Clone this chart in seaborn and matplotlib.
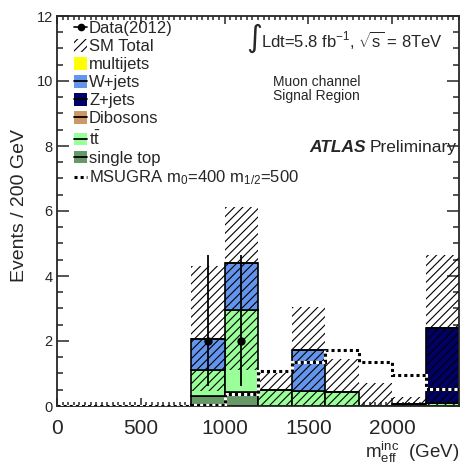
import numpy as np
import pandas as pd
import matplotlib
matplotlib.use("Agg")
import matplotlib.pyplot as plt
import seaborn as sns
from matplotlib.patches import Patch
from matplotlib.lines import Line2D
from matplotlib.ticker import MultipleLocator

# ---------------- data ----------------
bin_edges = [0, 200, 400, 600, 800, 1000, 1200, 1400, 1600, 1800, 2000, 2200, 2400]
bin_centers = [100, 300, 500, 700, 900, 1100, 1300, 1500, 1700, 1900, 2100, 2300]

processes = ["multijets", "W+jets", "Z+jets", "Dibosons", "ttbar", "single top"]
multijets = [0, 0, 0, 0, 0, 0, 0, 0, 0, 0, 0, 0]
wjets = [0, 0, 0, 0, 0.97, 1.45, 0, 1.25, 0, 0, 0, 0]
zjets = [0, 0, 0, 0, 0, 0, 0, 0, 0, 0, 0, 2.32]
dibosons = [0, 0, 0, 0, 0, 0, 0, 0, 0, 0, 0, 0]
ttbar = [0, 0, 0, 0, 0.78, 2.53, 0.48, 0.47, 0.44, 0.0, 0.05, 0.08]
single_top = [0, 0, 0, 0, 0.32, 0.42, 0, 0, 0, 0, 0, 0]

band_low = [0, 0, 0, 0, 0.45, 1.10, 0, 0, 0, 0, 0, 0]
band_high = [0, 0, 0, 0, 4.30, 6.13, 1.05, 3.05, 1.45, 0.72, 0.29, 4.65]

data_x = [900, 1100]
data_y = [2, 2]
data_lo = [0.62, 0.62]
data_hi = [4.66, 4.66]

msugra = [0, 0, 0, 0, 0.03, 0.37, 1.09, 1.36, 1.72, 1.36, 0.95, 0.52]

colors = {"multijets": "#FFFF00", "W+jets": "#6495ED", "Z+jets": "#000066",
          "Dibosons": "#CC9966", "ttbar": "#99FF99", "single top": "#669966"}
legend_labels = ["multijets", "W+jets", "Z+jets", "Dibosons",
                 r"$\mathrm{t}\bar{\mathrm{t}}$", "single top"]

# ---------------- style ----------------
sns.set_style("ticks")
plt.rcParams["font.family"] = ["Liberation Sans", "DejaVu Sans"]
plt.rcParams["mathtext.fontset"] = "custom"
plt.rcParams["mathtext.rm"] = "Liberation Sans"
plt.rcParams["mathtext.it"] = "Liberation Sans:italic"
plt.rcParams["mathtext.bf"] = "Liberation Sans:bold"
plt.rcParams["hatch.linewidth"] = 0.8

W, H = 465, 469
fig = plt.figure(figsize=(W / 100, H / 100), dpi=100)
ax = fig.add_axes([57 / W, 1 - 406 / H, (459 - 57) / W, (406 - 16) / H])

series = {"multijets": multijets, "W+jets": wjets, "Z+jets": zjets,
          "Dibosons": dibosons, "ttbar": ttbar, "single top": single_top}
df = pd.DataFrame({
    "x": np.tile(bin_centers, len(processes)),
    "w": np.concatenate([series[p] for p in processes]),
    "process": np.repeat(processes, len(bin_centers)),
})

sns.histplot(data=df, x="x", weights="w", hue="process", hue_order=processes,
             multiple="stack", bins=bin_edges, palette=colors, alpha=1,
             edgecolor="black", linewidth=1.2, legend=False, ax=ax, zorder=1)

# uncertainty band (hatched)
lo = np.array(band_low)
hi = np.array(band_high)
ax.bar(bin_centers, hi - lo, bottom=lo, width=200, fill=False, hatch="////",
       edgecolor="black", linewidth=0, zorder=2)

# MSUGRA signal line
ax.stairs(msugra, bin_edges, baseline=None, color="white", linewidth=2.2, zorder=3)
ax.stairs(msugra, bin_edges, baseline=None, color="black", linewidth=2.2,
          linestyle=(0, (1, 1)), zorder=3.1)

# data
dy = np.array(data_y)
ax.errorbar(data_x, data_y, yerr=[dy - np.array(data_lo), np.array(data_hi) - dy],
            fmt="o", color="black", ms=5, elinewidth=1.3, capsize=0, zorder=4)

ax.set_xlim(0, 2400)
ax.set_ylim(0, 12)
ax.set_xlabel("")
ax.set_ylabel("")
ax.xaxis.set_major_locator(MultipleLocator(500))
ax.xaxis.set_minor_locator(MultipleLocator(100 / 3))
ax.yaxis.set_major_locator(MultipleLocator(2))
ax.yaxis.set_minor_locator(MultipleLocator(0.5))
ax.tick_params(which="both", direction="in", top=True, right=True, width=1.1)
ax.tick_params(axis="y", which="major", length=8.5, labelsize=10.5, pad=3)
ax.tick_params(axis="y", which="minor", length=4.3)
ax.tick_params(axis="x", which="major", length=6, labelsize=15, pad=9)
ax.tick_params(axis="x", which="minor", length=3)
for s in ax.spines.values():
    s.set_linewidth(1.3)
    s.set_visible(True)

# legend
handles = [Line2D([], [], color="black", marker="o", ms=4.5, lw=1.2)]
labels = ["Data(2012)"]
handles.append(Patch(facecolor="none", edgecolor="black", linewidth=0, hatch="////"))
labels.append("SM Total")
for p, lab in zip(processes, legend_labels):
    patch = Patch(facecolor=colors[p], edgecolor="none")
    if p == "multijets":
        handles.append(patch)
    else:
        handles.append((patch, Line2D([], [], color="black", lw=1.3)))
    labels.append(lab)
handles.append(Line2D([], [], color="black", lw=2.2, linestyle=(0, (1, 1))))
labels.append(r"MSUGRA m$_{0}$=400 m$_{1/2}$=500")
fig.legend(handles, labels, loc="upper left", bbox_to_anchor=(74 / W, 1 - 21 / H),
           frameon=False, fontsize=12, handlelength=0.78, handleheight=0.78,
           handletextpad=0.12, labelspacing=0.18, borderpad=0, borderaxespad=0)

# texts
fig.text(246 / W, 1 - 38 / H, "\u222b", fontsize=22, family="DejaVu Sans",
         ha="left", va="center")
fig.text(261 / W, 1 - 47 / H, r"Ldt=5.8 fb$^{-1}$, $\sqrt{\mathrm{s}}$ = 8TeV",
         fontsize=12, ha="left", va="baseline")
fig.text(273 / W, 1 - 86 / H, "Muon channel", fontsize=10, ha="left", va="baseline")
fig.text(273 / W, 1 - 100 / H, "Signal Region", fontsize=10, ha="left", va="baseline")

t_pre = fig.text(457 / W, 1 - 152 / H, "Preliminary", fontsize=12.5,
                 ha="right", va="baseline")
fig.canvas.draw()
bb = t_pre.get_window_extent(renderer=fig.canvas.get_renderer())
fig.text((bb.x0 - 4) / W, 1 - 152 / H, "ATLAS", fontsize=12.5, fontweight="bold",
         fontstyle="italic", ha="right", va="baseline")

fig.text(459 / W, 1 - 458 / H, r"m$_{\mathrm{eff}}^{\mathrm{inc}}$  (GeV)",
         fontsize=13.5, ha="right", va="baseline")
fig.text(20 / W, 1 - 205 / H, "Events / 200 GeV", fontsize=14, rotation=90,
         ha="center", va="center")

fig.savefig("out.png", dpi=100)
